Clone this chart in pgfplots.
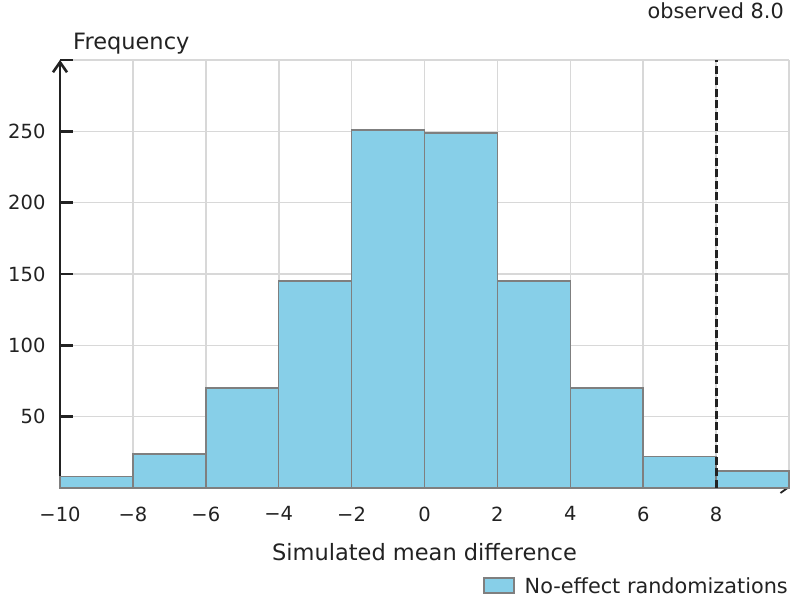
\documentclass[border=0pt]{standalone}
\usepackage{pgfplots}
\pgfplotsset{compat=1.18}
\usepackage{fontspec}
\setmainfont{DejaVu Sans}
\usetikzlibrary{arrows.meta}
\definecolor{barfill}{HTML}{87CFE8}
\definecolor{edgegray}{HTML}{7F7F7F}
\definecolor{gridgray}{HTML}{D8D8D8}
\definecolor{ink}{HTML}{222222}
\begin{document}
\begin{tikzpicture}[x=1pt,y=1pt]
\path[use as bounding box] (0,0) rectangle (792,601);
\begin{axis}[
  at={(60pt,113pt)}, anchor=south west,
  scale only axis, width=729pt, height=428pt,
  xmin=-10, xmax=10, ymin=0, ymax=300,
  axis lines=left,
  axis line style={draw=ink},
  x axis line style={line width=1.8pt, -{Straight Barb[length=7pt,width=10pt,line width=1.8pt]}},
  y axis line style={line width=2.6pt, -{Straight Barb[length=10pt,width=14pt,line width=2.6pt]}},
  xtick={-10,-8,...,10},
  xticklabels={−10,−8,−6,−4,−2,0,2,4,6,8,{}},
  ytick={50,100,150,200,250},
  yticklabels={50,100,150,200,250},
  extra y ticks={300},
  extra y tick labels={},
  extra y tick style={tick style={draw=none}},
  grid=major,
  grid style={draw=gridgray, line width=1.6pt},
  tick align=inside,
  major tick length=13pt,
  xtick style={draw=none},
  ytick style={line width=2.4pt, draw=ink},
  tick label style={font=\fontsize{19.5}{23}\selectfont, text=ink},
  xticklabel style={yshift=-15pt},
  yticklabel style={xshift=-11pt},
  clip=false,
  legend style={at={(axis description cs:1,0)}, anchor=north east,
    yshift=-87pt, xshift=1pt, draw=none, fill=none, inner sep=0pt,
    column sep=8pt,
    font=\fontsize{20.8}{24}\selectfont, text=ink},
  legend cell align=left,
  legend image code/.code={\draw[fill=barfill, draw=edgegray, line width=1.5pt] (0pt,-7pt) rectangle (30pt,8pt);},
]
\addplot[ybar interval, fill=barfill, draw=edgegray, line width=1.5pt]
  coordinates {(-10,8) (-8,24) (-6,70) (-4,145) (-2,251) (0,249) (2,145) (4,70) (6,22) (8,12) (10,12)};
\addlegendentry{No-effect randomizations}
\addplot[draw=ink, line width=3pt, dash pattern=on 8pt off 3.5pt, forget plot]
  coordinates {(8,0) (8,300)};
\end{axis}
\node[anchor=base west, text=ink, font=\fontsize{22.5}{26}\selectfont, inner sep=0pt] at (73,551) {Frequency};
\node[anchor=base, text=ink, font=\fontsize{22.5}{26}\selectfont, inner sep=0pt] at (424.5,40) {Simulated mean difference};
\node[anchor=base east, text=ink, font=\fontsize{20.8}{24}\selectfont, inner sep=0pt] at (784,582) {observed 8.0};
\end{tikzpicture}
\end{document}
